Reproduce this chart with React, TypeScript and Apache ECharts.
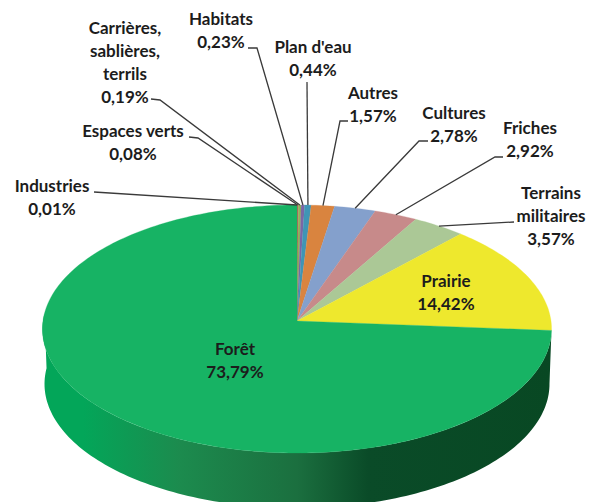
import React, { useEffect, useRef } from "react";
import * as echarts from "echarts";

const categories = ["Industries", "Espaces verts", "Carrières, sablières, terrils", "Habitats", "Plan d'eau", "Autres", "Cultures", "Friches", "Terrains militaires", "Prairie", "Forêt"];
const shares = [0.01, 0.08, 0.19, 0.23, 0.44, 1.57, 2.78, 2.92, 3.57, 14.42, 73.79];
const shareLabels = ["0,01%", "0,08%", "0,19%", "0,23%", "0,44%", "1,57%", "2,78%", "2,92%", "3,57%", "14,42%", "73,79%"];
const labelNames = ["Industries", "Espaces verts", "Carrières,\nsablières,\nterrils", "Habitats", "Plan d'eau", "Autres", "Cultures", "Friches", "Terrains\nmilitaires", "Prairie", "Forêt"];

const sliceColors = ["#4f81bd", "#c0504d", "#8fb25a", "#7b66a6", "#3f95b5", "#d9843f", "#84a0cc", "#c78a8a", "#abc896", "#eee82d", "#17b364"];
const labelCenters: number[][] = [[52, 196.5], [133, 142], [125, 62], [221, 29.5], [313, 57.5], [373, 103.5], [454, 123.5], [530, 138.5], [551, 215.5], [446, 291.5], [235, 359.5]];
const leaderPaths: number[][][] = [
  [[94, 192]],
  [[189, 137], [198, 138]],
  [[151, 99], [160, 100]],
  [[248, 48], [257, 48]],
  [[307, 82]],
  [[348, 121], [340, 121]],
  [[428, 141], [419, 141]],
  [[503, 157], [495, 157]],
  [[514, 222]],
  [],
  [],
];

const CX = 297, APEX_Y = 321, D = 254;
const A = -102.8, C = 0.0645;
const WALL_DROP = 55, WALL_SCALE = 0.992;
const total = shares.reduce((a, b) => a + b, 0);
const starts: number[] = [];
shares.reduce((acc, v, i) => { starts[i] = acc; return acc + v; }, 0);

const project = (share: number): number[] => {
  const t = (share / total) * 2 * Math.PI;
  const u = Math.sin(t), v = Math.cos(t);
  const w = 1 + C * v;
  return [CX + (D * u) / w, (A * v + APEX_Y) / w];
};
const arc = (from: number, to: number): number[][] => {
  const n = Math.max(2, Math.ceil((to - from) * 3));
  const pts: number[][] = [];
  for (let i = 0; i <= n; i++) pts.push(project(from + ((to - from) * i) / n));
  return pts;
};

export default function App() {
  const ref = useRef<HTMLDivElement>(null);
  useEffect(() => {
    const chart = echarts.init(ref.current!, undefined, { renderer: "svg" });
    const font = { fontFamily: "Lato", fontWeight: 700, fontSize: 17, fill: "#1c1c1c" };
    const items = shares.map((v) => [v]);
    chart.setOption({
      animation: false,
      backgroundColor: "#ffffff",
      series: [
        {
          type: "custom",
          coordinateSystem: "none",
          silent: true,
          data: [[1]],
          z: 1,
          renderItem: () => {
            const front = arc(total * 0.26, total * 0.76);
            const lower = front.map((p) => [CX + (p[0] - CX) * WALL_SCALE, p[1] + WALL_DROP]).reverse();
            return {
              type: "polygon",
              shape: { points: front.concat(lower) },
              style: {
                fill: new echarts.graphic.LinearGradient(0, 0, 1, 0, [
                  { offset: 0, color: "#03a659" },
                  { offset: 0.08, color: "#03a659" },
                  { offset: 0.27, color: "#1c8b4e" },
                  { offset: 0.5, color: "#1b6f3f" },
                  { offset: 0.64, color: "#0a4b28" },
                  { offset: 1, color: "#084823" },
                ]),
              },
            };
          },
        },
        {
          type: "custom",
          coordinateSystem: "none",
          silent: true,
          data: items,
          z: 2,
          renderItem: (p: any) => {
            const i = p.dataIndex;
            return {
              type: "polygon",
              shape: { points: [[CX, APEX_Y]].concat(arc(starts[i], starts[i] + shares[i])) },
              style: { fill: sliceColors[i], stroke: sliceColors[i], lineWidth: 0.3 },
            };
          },
        },
        {
          type: "custom",
          coordinateSystem: "none",
          silent: true,
          data: items,
          z: 3,
          renderItem: (p: any) => {
            const i = p.dataIndex;
            if (!leaderPaths[i].length) return null;
            const end = project(starts[i] + shares[i] / 2);
            return {
              type: "polyline",
              shape: { points: leaderPaths[i].concat([end]) },
              style: { fill: "none", stroke: "#3a3a3a", lineWidth: 1.3 },
            };
          },
        },
        {
          type: "custom",
          coordinateSystem: "none",
          silent: true,
          data: items,
          z: 4,
          renderItem: (p: any) => {
            const i = p.dataIndex;
            return {
              type: "text",
              style: {
                ...font,
                text: labelNames[i] + "\n" + shareLabels[i],
                x: labelCenters[i][0],
                y: labelCenters[i][1],
                align: "center",
                verticalAlign: "middle",
                lineHeight: 23,
              },
            };
          },
        },
      ],
    });
    return () => chart.dispose();
  }, []);
  return <div ref={ref} aria-label={categories.join(", ")} style={{ position: "fixed", left: 0, top: 0, width: 590, height: 502 }} />;
}
